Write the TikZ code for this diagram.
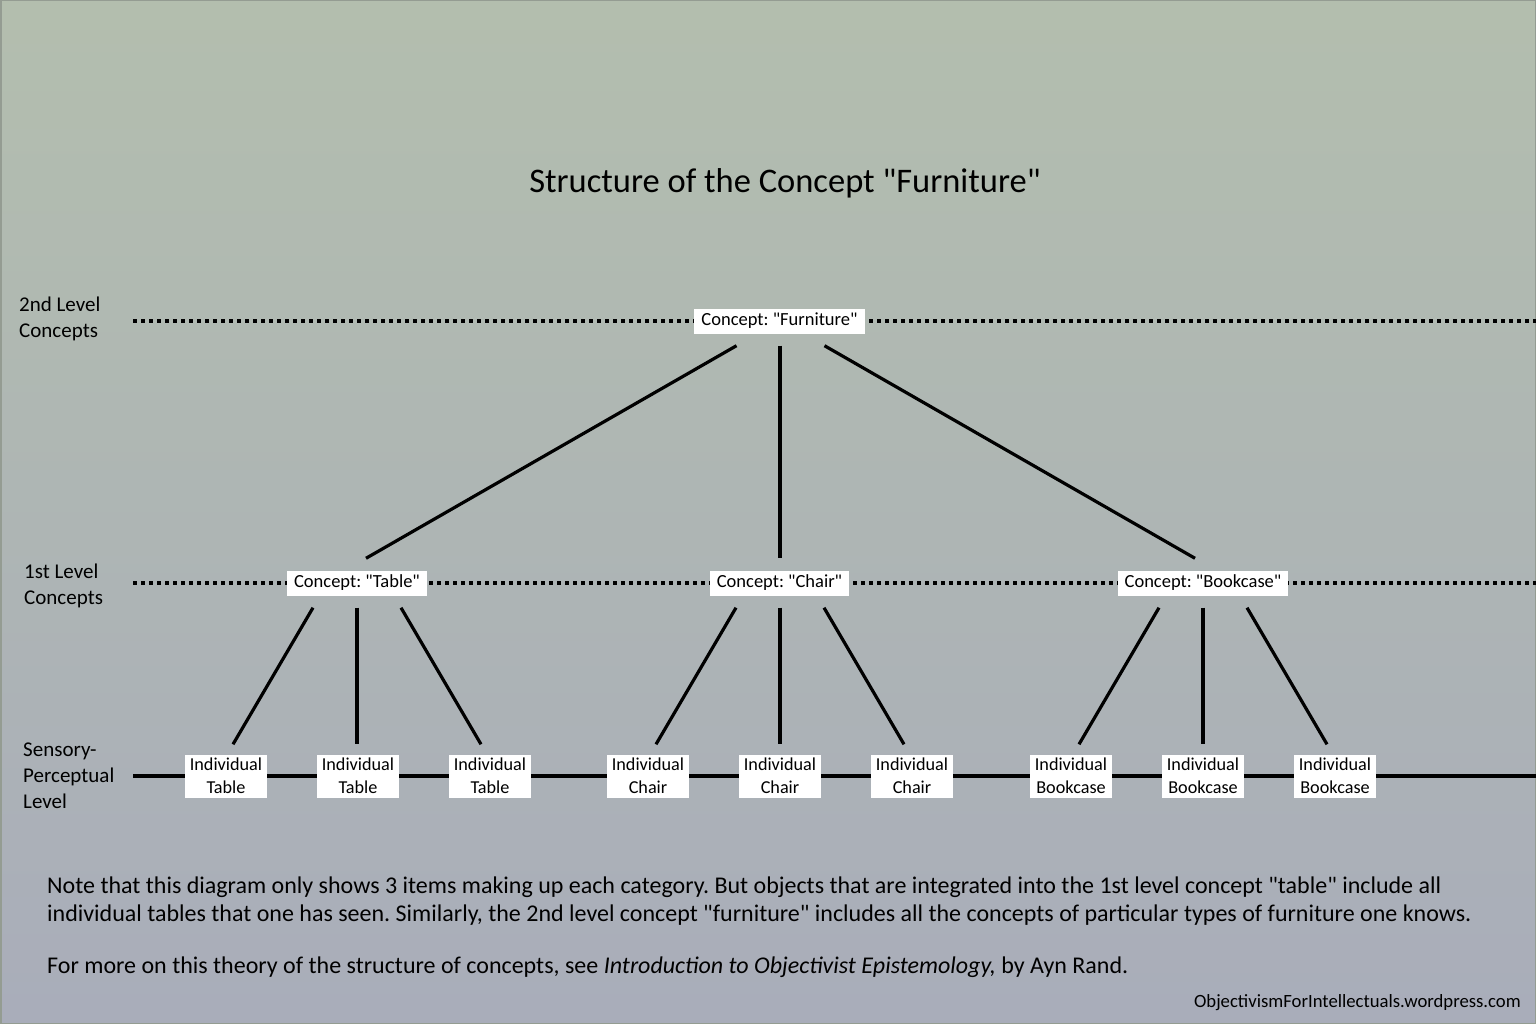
\documentclass[tikz,border=0pt]{standalone}
\usepackage{fontspec}
\setmainfont{Carlito}[Ligatures=TeXOff]
\frenchspacing
\usetikzlibrary{calc}
\definecolor{bgtop}{HTML}{B3BEAE}
\definecolor{bgbot}{HTML}{A9ADBA}
\definecolor{frame}{HTML}{949C92}
\tikzset{
  lvl/.style={font=\fontsize{21}{26}\selectfont, align=left, anchor=west, inner sep=0pt},
  cbox/.style={fill=white, font=\fontsize{18.5}{21}\selectfont, inner xsep=7pt, inner ysep=3pt, minimum height=25pt},
  ibox/.style={fill=white, font=\fontsize{18.2}{23}\selectfont, align=center, minimum width=82pt, minimum height=43pt, inner sep=0pt},
  dotline/.style={line width=3.6pt, dash pattern=on 4pt off 4pt},
  solid line/.style={line width=3.4pt},
  conn/.style={line width=3.2pt},
  note/.style={font=\fontsize{24}{28}\selectfont, anchor=base west, inner sep=0pt}
}
\begin{document}
\begin{tikzpicture}[x=1pt,y=-1pt]
\useasboundingbox (0,0) rectangle (1536,1024);
\shade[top color=bgtop, bottom color=bgbot] (0,0) rectangle (1536,1024);
\draw[frame, line width=3pt] (0,0) rectangle (1536,1024);

% title
\node[font=\fontsize{34.5}{40}\selectfont, inner sep=0pt] (title) at (785,183) {Structure of the Concept "Furniture"};

% level labels
\node[lvl] (l2) at (19,319) {2nd Level\\Concepts};
\node[lvl] (l1) at (24,586) {1st Level\\Concepts};
\node[lvl] (l0) at (23,776) {Sensory-\\Perceptual\\Level};

% level lines
\coordinate (d2s) at (133,321);
\coordinate (d2e) at (1536,321);
\coordinate (d1s) at (133,583);
\coordinate (d1e) at (1536,583);
\coordinate (d0s) at (133,776);
\coordinate (d0e) at (1536,776);
\draw[dotline] (d2s) -- (d2e);
\draw[dotline] (d1s) -- (d1e);
\draw[solid line] (d0s) -- (d0e);

% concept boxes
\node[cbox] (F) at (779.5,321) {Concept: "Furniture"};
\node[cbox] (T) at (357,583) {Concept: "Table"};
\node[cbox] (C) at (779.5,583) {Concept: "Chair"};
\node[cbox] (B) at (1203,583) {Concept: "Bookcase"};

% individual boxes
\node[ibox] (t1) at (226,776) {Individual\\Table};
\node[ibox] (t2) at (358,776) {Individual\\Table};
\node[ibox] (t3) at (490,776) {Individual\\Table};
\node[ibox] (c1) at (648,776) {Individual\\Chair};
\node[ibox] (c2) at (780,776) {Individual\\Chair};
\node[ibox] (c3) at (912,776) {Individual\\Chair};
\node[ibox] (b1) at (1071,776) {Individual\\Bookcase};
\node[ibox] (b2) at (1203,776) {Individual\\Bookcase};
\node[ibox] (b3) at (1335,776) {Individual\\Bookcase};

% connectors from furniture
\draw[conn] ($(F.south)+(-43,12)$) -- ($(T.north)+(9,-12)$);
\draw[conn] ($(F.south)+(0.5,12)$) -- ($(C.north)+(0.5,-12)$);
\draw[conn] ($(F.south)+(45,12)$) -- ($(B.north)+(-8,-12)$);

% connectors to individuals
\draw[conn] ($(T.south)+(-44,12)$) -- ($(t1.north)+(7,-10)$);
\draw[conn] ($(T.south)+(0,12)$) -- ($(t2.north)+(-1,-10)$);
\draw[conn] ($(T.south)+(44,12)$) -- ($(t3.north)+(-9,-10)$);
\draw[conn] ($(C.south)+(-43.5,12)$) -- ($(c1.north)+(8,-10)$);
\draw[conn] ($(C.south)+(0.5,12)$) -- ($(c2.north)+(0,-10)$);
\draw[conn] ($(C.south)+(44.5,12)$) -- ($(c3.north)+(-8,-10)$);
\draw[conn] ($(B.south)+(-44,12)$) -- ($(b1.north)+(8,-10)$);
\draw[conn] ($(B.south)+(0,12)$) -- ($(b2.north)+(0,-10)$);
\draw[conn] ($(B.south)+(44,12)$) -- ($(b3.north)+(-8,-10)$);

% notes
\node[note] (n1) at (47,893) {Note that this diagram only shows 3 items making up each category. But objects that are integrated into the 1st level concept "table" include all};
\node[note] (n1b) at (47,921) {individual tables that one has seen. Similarly, the 2nd level concept "furniture" includes all the concepts of particular types of furniture one knows.};
\node[note] (n2) at (47,973) {For more on this theory of the structure of concepts, see \textit{Introduction to Objectivist Epistemology,} by Ayn Rand.};
\node[font=\fontsize{18.7}{22}\selectfont, anchor=base east, inner sep=0pt] (foot) at (1521,1007) {ObjectivismForIntellectuals.wordpress.com};
\end{tikzpicture}
\end{document}
